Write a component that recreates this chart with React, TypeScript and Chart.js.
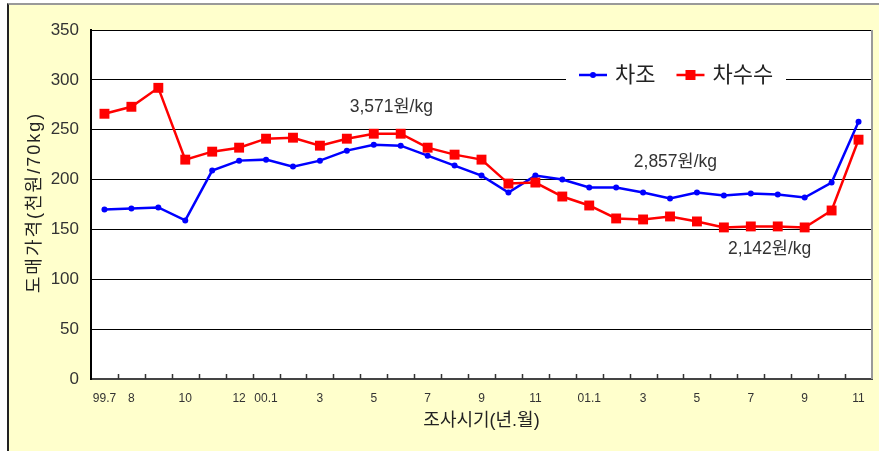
import { useEffect, useRef } from "react";
import { Chart, registerables } from "chart.js";

Chart.register(...registerables);

const categories = [
  "99.7", "99.8", "99.9", "99.10", "99.11", "99.12",
  "00.1", "00.2", "00.3", "00.4", "00.5", "00.6", "00.7", "00.8", "00.9", "00.10", "00.11", "00.12",
  "01.1", "01.2", "01.3", "01.4", "01.5", "01.6", "01.7", "01.8", "01.9", "01.10", "01.11",
];
const tickLabels = [
  "99.7", "8", "", "10", "", "12",
  "00.1", "", "3", "", "5", "", "7", "", "9", "", "11", "",
  "01.1", "", "3", "", "5", "", "7", "", "9", "", "11",
];
const chajo = [
  170, 171, 172, 159, 209, 219, 220, 213, 219, 229, 235, 234, 224, 214, 204,
  187, 204, 200, 192, 192, 187, 181, 187, 184, 186, 185, 182, 197, 258,
];
const chasusu = [
  266, 273, 292, 220, 228, 232, 241, 242, 234, 241, 246, 246, 232, 225, 220,
  196, 197, 183, 174, 161, 160, 163, 158, 152, 153, 153, 152, 169, 240,
];
const seriesNames = ["차조", "차수수"];
const yMin = 0;
const yMax = 350;
const yStep = 50;
const yTitle = "도매가격(천원/70kg)";
const xTitle = "조사시기(년.월)";
// annotation text, position on the category axis (index), value on y axis
const noteTexts = ["3,571원/kg", "2,857원/kg", "2,142원/kg"];
const noteIndex = [10.65, 21.2, 24.7];
const noteValue = [273, 217, 130];

const FONT = '"Liberation Sans", "Noto Sans CJK KR", Arial, sans-serif';

const plotPlugin = {
  id: "plotDecor",
  beforeDraw(chart: any) {
    const { ctx, chartArea: a } = chart;
    ctx.save();
    ctx.fillStyle = "#ffffff";
    ctx.fillRect(a.left, a.top, a.right - a.left, a.bottom - a.top);
    ctx.restore();
  },
  beforeDatasetsDraw(chart: any) {
    const { ctx, chartArea: a } = chart;
    const xs = chart.scales.x;
    ctx.save();
    // right border
    ctx.strokeStyle = "#9a9a9a";
    ctx.lineWidth = 2;
    ctx.beginPath();
    ctx.moveTo(a.right, a.top);
    ctx.lineTo(a.right, a.bottom);
    ctx.stroke();
    // inward tick marks at category boundaries
    const n = categories.length;
    const half = (xs.getPixelForValue(1) - xs.getPixelForValue(0)) / 2;
    ctx.strokeStyle = "#333";
    ctx.lineWidth = 1.5;
    ctx.beginPath();
    for (let i = 1; i < n; i++) {
      const px = Math.round(xs.getPixelForValue(i) - half) + 0.5;
      ctx.moveTo(px, a.bottom);
      ctx.lineTo(px, a.bottom - 5);
    }
    ctx.stroke();

    // legend inside the plot area
    const cy = a.top + 45;
    const x0 = a.right - 293;
    ctx.fillStyle = "#ffffff";
    ctx.fillRect(x0 - 13, cy - 14, 220, 28);
    ctx.font = `22px ${FONT}`;
    ctx.textBaseline = "middle";
    ctx.textAlign = "left";
    let x = x0;
    chart.data.datasets.forEach((ds: any) => {
      ctx.strokeStyle = ds.borderColor;
      ctx.lineWidth = 2.5;
      ctx.beginPath();
      ctx.moveTo(x, cy);
      ctx.lineTo(x + 28, cy);
      ctx.stroke();
      ctx.fillStyle = ds.backgroundColor;
      if (ds.pointStyle === "rect") {
        ctx.fillRect(x + 14 - 5, cy - 5, 10, 10);
      } else {
        ctx.beginPath();
        ctx.arc(x + 14, cy, 3, 0, Math.PI * 2);
        ctx.fill();
      }
      ctx.fillStyle = "#222";
      ctx.fillText(ds.label, x + 36, cy + 1);
      x += 36 + ctx.measureText(ds.label).width + 21;
    });
    ctx.restore();
  },
  afterDatasetsDraw(chart: any) {
    const { ctx, chartArea: a } = chart;
    const xs = chart.scales.x;
    const ys = chart.scales.y;
    const i0 = xs.getPixelForValue(0);
    const step = xs.getPixelForValue(1) - i0;
    ctx.save();
    ctx.font = `17.5px ${FONT}`;
    ctx.fillStyle = "#333";
    ctx.textAlign = "center";
    ctx.textBaseline = "middle";
    noteTexts.forEach((t, k) => {
      ctx.fillText(t, i0 + step * noteIndex[k], ys.getPixelForValue(noteValue[k]));
    });
    ctx.restore();

    // y axis title, drawn with a little letter spacing
    ctx.save();
    ctx.translate(35, (a.top + a.bottom) / 2 - 1);
    ctx.rotate(-Math.PI / 2);
    ctx.font = `18px ${FONT}`;
    (ctx as any).letterSpacing = "2px";
    ctx.fillStyle = "#222";
    ctx.textAlign = "center";
    ctx.textBaseline = "middle";
    ctx.fillText(yTitle, 1, 0);
    ctx.restore();
  },
};

export default function App() {
  const ref = useRef<HTMLCanvasElement | null>(null);

  useEffect(() => {
    if (!ref.current) return;
    const chart = new Chart(ref.current, {
      type: "line",
      data: {
        labels: categories,
        datasets: [
          {
            label: seriesNames[0],
            data: chajo,
            borderColor: "#0000ff",
            backgroundColor: "#0000ff",
            borderWidth: 2.5,
            pointStyle: "circle",
            pointRadius: 3,
            pointBorderWidth: 0,
            tension: 0,
            order: 1,
          },
          {
            label: seriesNames[1],
            data: chasusu,
            borderColor: "#ff0000",
            backgroundColor: "#ff0000",
            borderWidth: 2.5,
            pointStyle: "rect",
            pointRadius: 7,
            pointBorderWidth: 0,
            tension: 0,
            order: 0,
          },
        ],
      },
      options: {
        responsive: false,
        animation: false,
        events: [],
        layout: { padding: { top: 30, right: 6, left: 0, bottom: 0 } },
        plugins: {
          legend: { display: false },
          tooltip: { enabled: false },
        },
        scales: {
          x: {
            type: "category",
            offset: true,
            grid: { display: false, drawTicks: false },
            border: { display: true, color: "#444", width: 2 },
            ticks: {
              autoSkip: false,
              maxRotation: 0,
              minRotation: 0,
              padding: 12,
              color: "#333",
              font: { family: FONT, size: 12 },
              callback: (_v: any, i: number) => tickLabels[i],
            },
            title: {
              display: true,
              text: xTitle,
              color: "#222",
              font: { family: FONT, size: 18 },
              padding: { top: 0, bottom: 19 },
            },
            afterFit: (s: any) => {
              s.height = 72;
            },
          },
          y: {
            min: yMin,
            max: yMax,
            grid: { color: "#000", lineWidth: 1, drawTicks: false },
            border: { display: true, color: "#000", width: 2 },
            ticks: {
              stepSize: yStep,
              padding: 12,
              color: "#333",
              font: { family: FONT, size: 17 },
            },
            title: { display: false, text: yTitle },
            afterFit: (s: any) => {
              s.width = 91;
            },
          },
        },
      },
      plugins: [plotPlugin],
    });
    return () => chart.destroy();
  }, []);

  return (
    <div style={{ position: "absolute", left: 0, top: 0, width: 879, height: 451, overflow: "hidden" }}>
      <div
        style={{
          position: "absolute",
          left: 7,
          top: 3,
          width: 880,
          height: 460,
          background: "#ffffcc",
          borderLeft: "2px solid #222",
          borderTop: "2px solid #999",
        }}
      />
      <canvas
        ref={ref}
        width={879}
        height={451}
        style={{ position: "absolute", left: 0, top: 0, width: 879, height: 451 }}
      />
    </div>
  );
}
